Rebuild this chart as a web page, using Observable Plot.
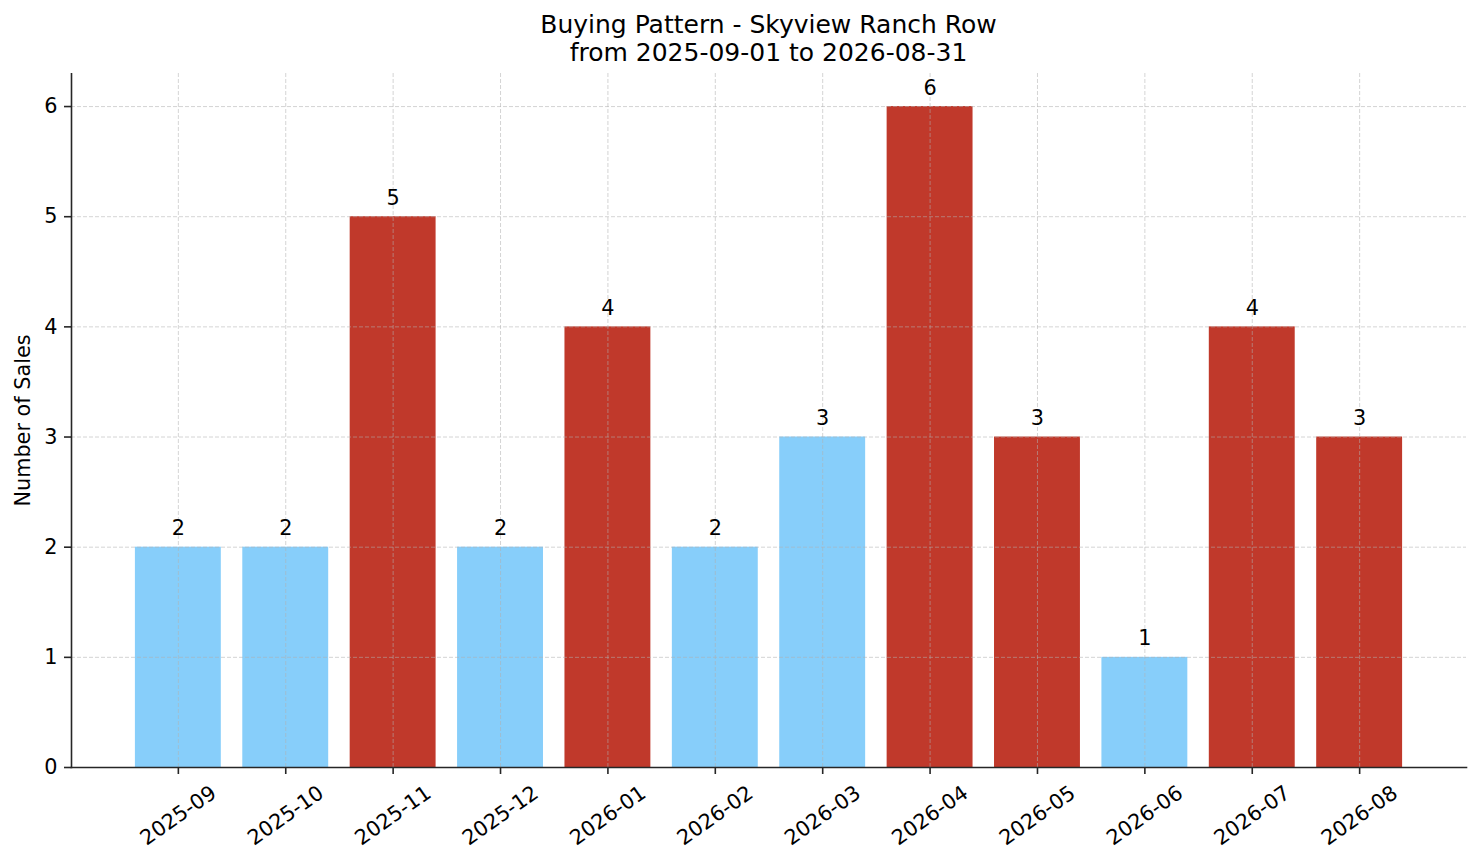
<!DOCTYPE html>
<html><head><meta charset="utf-8">
<script src="https://cdn.jsdelivr.net/npm/d3@7"></script>
<script src="https://cdn.jsdelivr.net/npm/@observablehq/plot@0.6"></script>
<style>
body{margin:0;background:#fff;font-family:"DejaVu Sans",sans-serif;}
#title{height:73px;width:1481px;box-sizing:border-box;padding:11px 15px 0 71px;text-align:center;font-size:25px;line-height:28px;color:#000;}
#chart svg{display:block;}
</style></head><body>
<div id="title"><div>Buying Pattern - Skyview Ranch Row</div><div>from 2025-09-01 to 2026-08-31</div></div>
<div id="chart"></div>
<script>
const months = ["2025-09","2025-10","2025-11","2025-12","2026-01","2026-02","2026-03","2026-04","2026-05","2026-06","2026-07","2026-08"];
const sales = [2,2,5,2,4,2,3,6,3,1,4,3];
const groups = ["normal","normal","high","normal","high","normal","normal","high","high","normal","high","high"];
const yTicks = [0,1,2,3,4,5,6];
const groupNames = ["normal","high"];
const groupColors = ["#87CEFA","#C0392B"];
const yLabel = "Number of Sales";

const data = months.map((m,i)=>({month:m, sales:sales[i], group:groups[i]}));
const axisColor = "#262626";
const gridStyle = {stroke:"#b0b0b0", strokeOpacity:0.55, strokeDasharray:"4,2", strokeWidth:1};

const chart = Plot.plot({
  width:1481, height:790, marginTop:0, marginBottom:96, marginLeft:71, marginRight:15,
  style:{fontFamily:"DejaVu Sans", fontSize:"20.8px", color:"#000", background:"#fff"},
  x:{type:"band", domain:months, paddingInner:0.2, paddingOuter:0.595, align:0.5, round:false, axis:null},
  y:{domain:[0,6.3], axis:null},
  color:{domain:groupNames, range:groupColors},
  marks:[
    Plot.barY(data,{x:"month", y:"sales", fill:"group"}),
    Plot.gridY(yTicks, gridStyle),
    Plot.gridX(months, gridStyle),
    Plot.text(data,{x:"month", y:"sales", text:d=>String(d.sales), lineAnchor:"bottom", dy:-12, fontSize:20.8, fill:"#000"}),
    Plot.axisY(yTicks,{tickSize:7, tickPadding:7, label:null, fontSize:20.8, stroke:axisColor, strokeWidth:1.6, tickFormat:d=>String(d), color:"#000"}),
    Plot.axisX(months,{tickSize:7, tickFormat:()=>"", label:null, stroke:axisColor, strokeWidth:1.6}),
    Plot.text(months,{x:d=>d, frameAnchor:"bottom", text:d=>d, rotate:-35, dy:48, textAnchor:"middle", lineAnchor:"middle", fontSize:20.8, fill:"#000"}),
    Plot.text([yLabel],{frameAnchor:"left", text:d=>d, rotate:-90, dx:-48, textAnchor:"middle", lineAnchor:"middle", fontSize:20.8, fill:"#000"}),
    Plot.frame({anchor:"left", stroke:axisColor, strokeWidth:1.6}),
    Plot.frame({anchor:"bottom", stroke:axisColor, strokeWidth:1.6})
  ]
});
document.getElementById("chart").appendChild(chart);
</script>
</body></html>
